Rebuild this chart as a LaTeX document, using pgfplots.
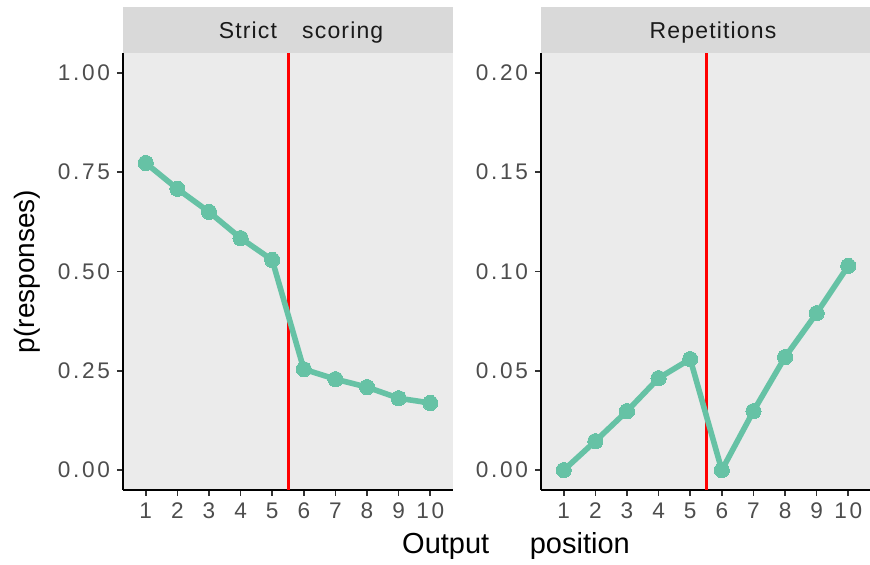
\documentclass[border=0pt]{standalone}
\usepackage{fontspec}
\setmainfont{Liberation Sans}
\newfontfamily\tickfont[LetterSpace=12]{Liberation Sans}
\newfontfamily\stripfont[LetterSpace=5]{Liberation Sans}
\usepackage{pgfplots}
\pgfplotsset{compat=1.18}
\definecolor{panelbg}{HTML}{EBEBEB}
\definecolor{stripbg}{HTML}{D9D9D9}
\definecolor{sercol}{HTML}{66C2A5}
\definecolor{ticklab}{HTML}{4D4D4D}
\definecolor{tickc}{HTML}{333333}
\definecolor{striptext}{HTML}{1A1A1A}
\pgfplotsset{
  facet/.style={
    scale only axis, width=165pt, height=218.5pt,
    anchor=south west,
    axis lines*=left,
    axis line style={black, line width=1.2pt},
    axis background/.style={fill=panelbg},
    tick align=outside, major tick length=3pt,
    tick style={tickc, line width=0.8pt},
    xmin=0.28, xmax=10.72,
    xtick={1,...,10},
    /pgf/number format/assume math mode=true,
    tick label style={font=\tickfont\fontsize{11.3}{13}\selectfont, text=ticklab},
    yticklabel style={/pgf/number format/fixed, /pgf/number format/fixed zerofill, /pgf/number format/precision=2},
    clip=false,
  },
  serstyle/.style={sercol, line width=2.8pt, mark=*, mark size=3.8pt, mark options={solid, fill=sercol, draw=sercol, line width=0pt}},
}
\begin{document}
\begin{tikzpicture}
\path[use as bounding box] (0,0) rectangle (435pt,282.5pt);
\begin{axis}[facet, at={(61.5pt,37.5pt)},
  ymin=-0.05, ymax=1.05, ytick={0,0.25,0.5,0.75,1}]
  \fill[stripbg] (rel axis cs:0,1) rectangle ([yshift=23pt]rel axis cs:1,1);
  \node[font=\stripfont\fontsize{11.5}{13}\selectfont, text=striptext, xshift=6.5pt] at ([yshift=10pt]rel axis cs:0.5,1) {Strict\hspace{1.1em}scoring};
  \draw[red, line width=1.5pt] (axis cs:5.5,-0.05) -- (axis cs:5.5,1.05);
  \addplot[serstyle] coordinates {
    (1,0.773) (2,0.708) (3,0.650) (4,0.584) (5,0.529)
    (6,0.254) (7,0.229) (8,0.209) (9,0.181) (10,0.169)};
\end{axis}
\begin{axis}[facet, at={(270.5pt,37.5pt)},
  ymin=-0.01, ymax=0.21, ytick={0,0.05,0.1,0.15,0.2}]
  \fill[stripbg] (rel axis cs:0,1) rectangle ([yshift=23pt]rel axis cs:1,1);
  \node[font=\stripfont\fontsize{11.5}{13}\selectfont, text=striptext, xshift=3.5pt] at ([yshift=10pt]rel axis cs:0.5,1) {Repetitions};
  \draw[red, line width=1.5pt] (axis cs:5.5,-0.01) -- (axis cs:5.5,0.21);
  \addplot[serstyle] coordinates {
    (1,0.0) (2,0.0146) (3,0.0297) (4,0.0463) (5,0.0559)
    (6,0.0) (7,0.0297) (8,0.0569) (9,0.079) (10,0.1028)};
\end{axis}
\node[font=\fontsize{14.5}{16}\selectfont] at (258pt,9.5pt) {Output\hspace{1.4em}position};
\node[font=\fontsize{14}{16}\selectfont, rotate=90] at (13.5pt,146.75pt) {p(responses)};
\end{tikzpicture}
\end{document}
